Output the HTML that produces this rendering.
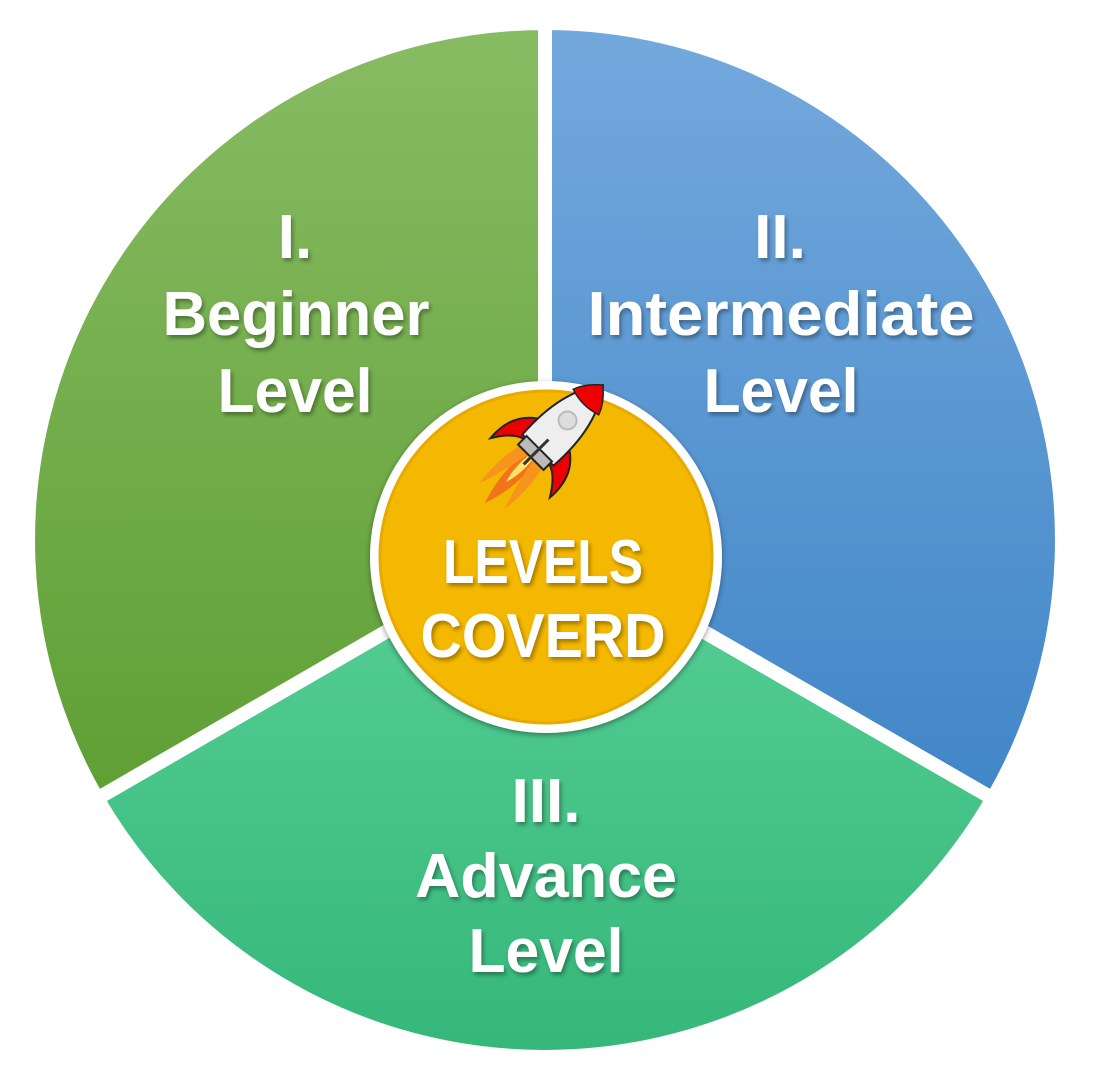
<!DOCTYPE html>
<html><head><meta charset="utf-8"><style>html,body{margin:0;padding:0;background:#fff;width:1094px;height:1080px;overflow:hidden}</style></head>
<body>
<svg width="1094" height="1080" viewBox="0 0 1094 1080" xmlns="http://www.w3.org/2000/svg">
<defs>
<linearGradient id="g1" x1="0" y1="0" x2="0" y2="1"><stop offset="0" stop-color="#88bc64"/><stop offset="1" stop-color="#5f9f34"/></linearGradient>
<linearGradient id="g2" x1="0" y1="0" x2="0" y2="1"><stop offset="0" stop-color="#74a9dd"/><stop offset="1" stop-color="#4186c8"/></linearGradient>
<linearGradient id="g3" x1="0" y1="0" x2="0" y2="1"><stop offset="0" stop-color="#58d096"/><stop offset="1" stop-color="#35b77a"/></linearGradient>
<filter id="sh" x="-10%" y="-10%" width="120%" height="120%"><feDropShadow dx="2" dy="3" stdDeviation="2" flood-color="#000" flood-opacity="0.35"/></filter>
<filter id="cs" x="-20%" y="-20%" width="140%" height="140%"><feDropShadow dx="0" dy="2" stdDeviation="3" flood-color="#000" flood-opacity="0.4"/></filter>
</defs>
<g stroke="#fff" stroke-width="14">
<path d="M545,540 L545,23 A517,517 0 0 0 97.3,798.5 Z" fill="url(#g1)"/>
<path d="M545,540 L545,23 A517,517 0 0 1 992.7,798.5 Z" fill="url(#g2)"/>
<path d="M545,540 L97.3,798.5 A517,517 0 0 0 992.7,798.5 Z" fill="url(#g3)"/>
</g>
<g font-family="Liberation Sans, sans-serif" font-weight="bold" font-size="62" fill="#fff" text-anchor="middle" filter="url(#sh)">
<text x="295" y="258">I.</text>
<text x="296" y="335" textLength="267" lengthAdjust="spacingAndGlyphs">Beginner</text>
<text x="295" y="412" textLength="155" lengthAdjust="spacingAndGlyphs">Level</text>
<text x="780" y="258">II.</text>
<text x="781" y="335" textLength="387" lengthAdjust="spacingAndGlyphs">Intermediate</text>
<text x="781" y="412" textLength="155" lengthAdjust="spacingAndGlyphs">Level</text>
<text x="546" y="822">III.</text>
<text x="546" y="897" textLength="262" lengthAdjust="spacingAndGlyphs">Advance</text>
<text x="546" y="972" textLength="155" lengthAdjust="spacingAndGlyphs">Level</text>
</g>
<circle cx="546" cy="557" r="176" fill="#fff" filter="url(#cs)"/>
<circle cx="546" cy="557" r="166" fill="#f5b800" stroke="#e8a900" stroke-width="3"/>
<g transform="translate(552,436) rotate(45)">
<path d="M-6,30 Q-12,60 0,95 Q12,60 6,30 Z" fill="#f26b1d" opacity="0.9"/>
<path d="M-16,30 Q-22,55 -18,85 Q-8,55 -4,30 Z" fill="#f7941d"/>
<path d="M16,30 Q22,55 18,85 Q8,55 4,30 Z" fill="#f7941d"/>
<path d="M-3,30 Q-5,50 0,65 Q5,50 3,30 Z" fill="#ffe36a"/>
<path d="M-18,-5 Q-45,10 -42,45 Q-30,25 -18,22 Z" fill="#e00" stroke="#222" stroke-width="2"/>
<path d="M18,-5 Q45,10 42,45 Q30,25 18,22 Z" fill="#e00" stroke="#222" stroke-width="2"/>
<path d="M0,-72 Q26,-40 22,20 L-22,20 Q-26,-40 0,-72 Z" fill="#eee" stroke="#222" stroke-width="2"/>
<path d="M0,-72 Q14,-60 18,-48 Q0,-42 -18,-48 Q-14,-60 0,-72 Z" fill="#e00" stroke="#222" stroke-width="1.5"/>
<rect x="-18" y="18" width="36" height="12" fill="#bbb" stroke="#222" stroke-width="2"/>
<circle cx="0" cy="-22" r="9" fill="#ddd" stroke="#bbb" stroke-width="2"/>
<line x1="0" y1="5" x2="0" y2="40" stroke="#333" stroke-width="3"/>
</g>
<g font-family="Liberation Sans, sans-serif" font-weight="bold" font-size="62" fill="#fff" text-anchor="middle" filter="url(#sh)">
<text x="543" y="583" textLength="200" lengthAdjust="spacingAndGlyphs">LEVELS</text>
<text x="543" y="657" textLength="245" lengthAdjust="spacingAndGlyphs">COVERD</text>
</g>
</svg>
</body></html>
